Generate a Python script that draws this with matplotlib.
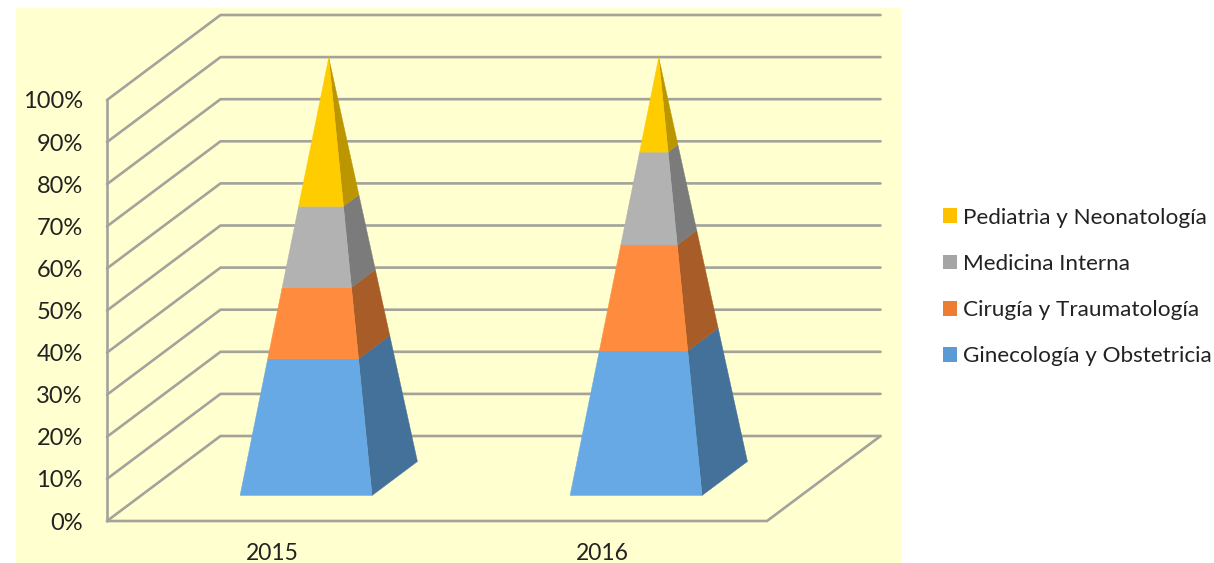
import matplotlib
matplotlib.use('Agg')
import matplotlib.pyplot as plt
from matplotlib.patches import Patch, Polygon, Rectangle

plt.rcParams['font.family'] = ['Lato', 'DejaVu Sans']

years = ['2015', '2016']
series = ['Ginecología y Obstetricia', 'Cirugía y Traumatología', 'Medicina Interna', 'Pediatrìa y Neonatología']
ginecologia = [31.2, 33.0]
cirugia = [16.3, 24.2]
medicina = [18.5, 21.2]
pediatria = [34.0, 21.6]
pct_ticks = list(range(0, 101, 10))

front_colors = ['#67A9E5', '#FF8C3E', '#B2B2B2', '#FFCC00']
side_colors = ['#44719A', '#A85C27', '#7B7B7B', '#BC9600']
legend_colors = ['#5B9BD5', '#ED7D31', '#A5A5A5', '#FFC000']
grid_color = '#A3A39B'
text_color = '#222222'

W, H = 1214, 563
DX = 113.5 / 330   # wall depth, in category widths
DY = 85 / 4.21     # wall depth, in percent
HALF = 0.2         # half the base of a pyramid


def proj(cat, depth, pct):
    return cat + depth * DX, pct + depth * DY


def corners(center, pct):
    w = HALF * (1 - pct / 100)
    fl = proj(center - w, 0.5 - w, pct)
    fr = proj(center + w, 0.5 - w, pct)
    br = proj(center + w, 0.5 + w, pct)
    return fl, fr, br


def pyramid(ax, center, values):
    bottom = 0
    for i, v in enumerate(values):
        top = bottom + v
        fl0, fr0, br0 = corners(center, bottom)
        fl1, fr1, br1 = corners(center, top)
        ax.add_patch(Polygon([br0, br1, fr1, fr0], closed=True, fc=side_colors[i],
                             ec=side_colors[i], lw=0.3, zorder=3, clip_on=False))
        ax.add_patch(Polygon([fl0, fr0, fr1, fl1], closed=True, fc=front_colors[i],
                             ec=front_colors[i], lw=0.3, zorder=4, clip_on=False))
        bottom = top


fig = plt.figure(figsize=(W / 100, H / 100), dpi=100, facecolor='white')
fig.add_artist(Rectangle((16 / W, 0), 885 / W, 555 / H, transform=fig.transFigure,
                         fc='#FFFFCF', ec='none', zorder=0))

ax = fig.add_axes([107 / W, (H - 521) / H, 660 / W, 421 / H])
ax.patch.set_visible(False)
ax.set_xlim(0, 2)
ax.set_ylim(0, 100)
for s in ax.spines.values():
    s.set_visible(False)

# walls
line = dict(color=grid_color, lw=1.9, zorder=1, clip_on=False, solid_capstyle='round')
ax.plot([0, 0], [0, 100], **line)
for p in pct_ticks:
    a = proj(0, 0, p)
    b = proj(0, 1, p)
    c = proj(2, 1, p)
    ax.plot([a[0], b[0], c[0]], [a[1], b[1], c[1]], **line)
a = proj(0, 0, 0)
b = proj(2, 0, 0)
c = proj(2, 1, 0)
ax.plot([a[0], b[0], c[0]], [a[1], b[1], c[1]], **line)

for i in range(len(years)):
    pyramid(ax, i + 0.5, [ginecologia[i], cirugia[i], medicina[i], pediatria[i]])

ax.set_yticks(pct_ticks, [f'{p}%' for p in pct_ticks])
ax.set_xticks([i + 0.5 for i in range(len(years))], years)
ax.tick_params(axis='y', length=0, pad=17.5, labelsize=17, labelcolor=text_color)
ax.tick_params(axis='x', length=0, pad=15.5, labelsize=16.5, labelcolor=text_color)

handles = [Patch(fc=legend_colors[i], ec='none', label=series[i]) for i in range(3, -1, -1)]
fig.legend(handles=handles, loc='center left', bbox_to_anchor=(936 / W, (H - 287) / H),
           frameon=False, fontsize=16.2, labelcolor=text_color, handlelength=0.62,
           handleheight=0.62, handletextpad=0.27, labelspacing=1.17,
           borderaxespad=0, borderpad=0.3)

fig.savefig('out.png', dpi=100)
